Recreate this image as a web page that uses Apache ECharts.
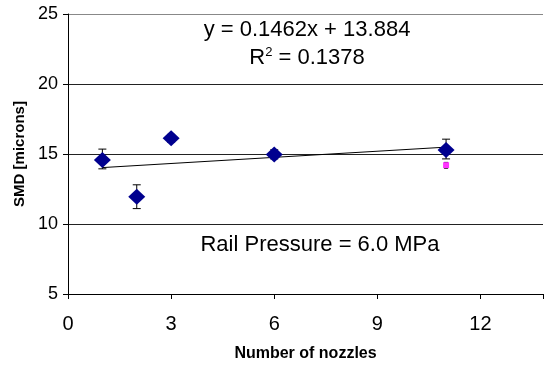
<!DOCTYPE html>
<html>
<head>
<meta charset="utf-8">
<script src="https://cdn.jsdelivr.net/npm/echarts@6/dist/echarts.min.js"></script>
<style>
  html, body { margin: 0; padding: 0; background: #fff; }
  #chart { width: 546px; height: 367px; }
</style>
</head>
<body>
<div id="chart"></div>
<script>
// Nozzle counts and measured SMD values
var nozzles = [1, 2, 3, 6, 11];
var smd = [14.57, 11.95, 16.13, 14.97, 15.28];
var errLow = [13.94, 11.1, 15.85, 14.65, 14.65];
var errHigh = [15.35, 12.8, 16.4, 15.3, 16.06];

// Single extra point (pink square)
var extraX = [11];
var extraY = [14.2];
var extraLow = [13.98];
var extraHigh = [14.4];

// Linear trend endpoints
var trendX = [1, 11];
var trendY = [14.03, 15.49];

var xTicks = [0, 3, 6, 9, 12];
var yTicks = [5, 10, 15, 20, 25];

var FONT = "Liberation Sans, Arial, sans-serif";

function buildPairs(xs, ys) {
  let out = [];
  for (let i = 0; i < xs.length; i++) {
    out.push([xs[i], ys[i]]);
  }
  return out;
}

function buildErr(xs, lo, hi) {
  let out = [];
  for (let i = 0; i < xs.length; i++) {
    out.push([xs[i], lo[i], hi[i]]);
  }
  return out;
}

// draws a vertical error bar with caps
function renderErr(params, api) {
  let x = api.value(0);
  let low = api.coord([x, api.value(1)]);
  let high = api.coord([x, api.value(2)]);
  let half = params.seriesIndex === 2 ? 2 : 4;
  let style = { stroke: "#000", lineWidth: 1 };
  return {
    type: "group",
    children: [
      { type: "line", shape: { x1: low[0], y1: low[1], x2: high[0], y2: high[1] }, style: style },
      { type: "line", shape: { x1: high[0] - half, y1: high[1], x2: high[0] + half, y2: high[1] }, style: style },
      { type: "line", shape: { x1: low[0] - half, y1: low[1], x2: low[0] + half, y2: low[1] }, style: style }
    ]
  };
}

var dom = document.getElementById("chart");
var myChart = echarts.init(dom, null, { renderer: "canvas" });

var option = {
  animation: false,
  textStyle: { fontFamily: FONT },
  grid: { left: 68, top: 14, right: 0, bottom: 71 },
  xAxis: {
    type: "value",
    min: 0,
    max: 13.82,
    interval: 3,
    name: "Number of nozzles",
    nameLocation: "middle",
    nameGap: 52,
    nameTextStyle: { fontSize: 16, fontWeight: "bold", color: "#000" },
    axisLine: { show: true, lineStyle: { color: "#000", width: 1 } },
    axisTick: { show: true, length: 5, lineStyle: { color: "#000" } },
    axisLabel: {
      fontSize: 20,
      color: "#000",
      margin: 20,
      formatter: function (v) { return xTicks.indexOf(v) >= 0 ? String(v) : ""; }
    },
    splitLine: { show: false }
  },
  yAxis: {
    type: "value",
    min: 5,
    max: 25,
    interval: 5,
    name: "SMD [microns]",
    nameLocation: "middle",
    nameGap: 41,
    nameRotate: 90,
    nameTextStyle: { fontSize: 15, fontWeight: "bold", color: "#000" },
    axisLine: { show: true, lineStyle: { color: "#000", width: 1 } },
    axisTick: { show: true, length: 5, lineStyle: { color: "#000" } },
    axisLabel: {
      fontSize: 18,
      color: "#000",
      margin: 10,
      formatter: function (v) { return yTicks.indexOf(v) >= 0 ? String(v) : ""; }
    },
    splitLine: {
      show: true,
      lineStyle: { color: ["#000", "#222", "#222", "#222", "#888"], width: 1 }
    }
  },
  series: [
    {
      type: "line",
      data: buildPairs(trendX, trendY),
      symbol: "none",
      lineStyle: { color: "#000", width: 1 },
      z: 2
    },
    {
      type: "custom",
      renderItem: renderErr,
      data: buildErr(nozzles, errLow, errHigh),
      encode: { x: 0, y: [1, 2] },
      z: 3
    },
    {
      type: "custom",
      renderItem: renderErr,
      data: buildErr(extraX, extraLow, extraHigh),
      encode: { x: 0, y: [1, 2] },
      z: 3
    },
    {
      type: "scatter",
      data: buildPairs(nozzles, smd),
      symbol: "diamond",
      symbolSize: [17, 16],
      itemStyle: { color: "#00008F", opacity: 1 },
      z: 4
    },
    {
      type: "scatter",
      data: buildPairs(extraX, extraY),
      symbol: "rect",
      symbolSize: 6,
      itemStyle: { color: "#FF33FF", opacity: 1 },
      z: 4
    }
  ],
  graphic: [
    {
      type: "text",
      x: 307,
      y: 30,
      style: { text: "y = 0.1462x + 13.884", fontSize: 22, fill: "#000", fontFamily: FONT, align: "center", verticalAlign: "middle" }
    },
    {
      type: "text",
      x: 307,
      y: 58,
      style: {
        text: "{a|R}{b|2}{a| = 0.1378}",
        align: "center",
        verticalAlign: "middle",
        rich: {
          a: { fontSize: 22, fill: "#000", fontFamily: FONT },
          b: { fontSize: 13, fill: "#000", fontFamily: FONT, padding: [0, 0, 12, 0] }
        }
      }
    },
    {
      type: "text",
      x: 320,
      y: 245,
      style: { text: "Rail Pressure = 6.0 MPa", fontSize: 22, fill: "#000", fontFamily: FONT, align: "center", verticalAlign: "middle" }
    }
  ]
};

myChart.setOption(option);
window.addEventListener("resize", myChart.resize);
</script>
</body>
</html>
